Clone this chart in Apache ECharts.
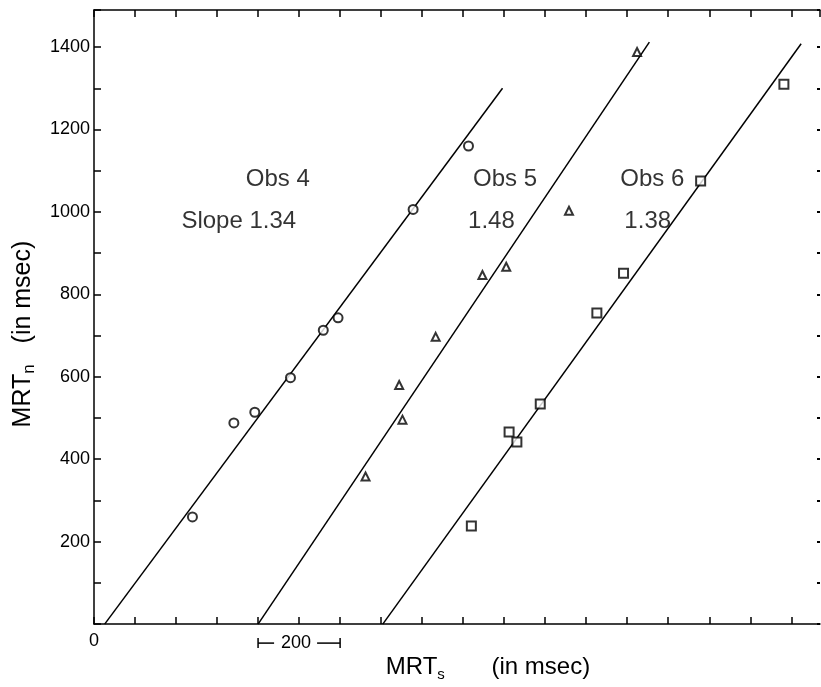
<!DOCTYPE html>
<html>
<head>
<meta charset="utf-8">
<script src="https://cdn.jsdelivr.net/npm/echarts@6/dist/echarts.min.js"></script>
<style>
  html, body { margin: 0; padding: 0; background: #fff; }
  #chart { width: 821px; height: 687px; }
</style>
</head>
<body>
<div id="chart"></div>
<script>
  // observed points, [MRT_s, MRT_n] in msec
  const obs4 = [[240, 260], [341, 488], [392, 514], [479, 598], [559, 713], [595, 743], [778, 1006], [913, 1160]]
  const obs5 = [[662, 358], [744, 580], [752, 496], [833, 697], [947, 847], [1005, 867], [1158, 1003], [1324, 1388]]
  const obs6 = [[920, 238], [1012, 466], [1031, 442], [1088, 534], [1226, 755], [1291, 851], [1479, 1075], [1682, 1310]]
  // fitted lines, end points
  const fit4 = [[26, 0], [996, 1300]]
  const fit5 = [[400, 0], [1354, 1412]]
  const fit6 = [[704, 0], [1724, 1408]]
  // text in the plot
  const noteText = ['Obs 4', 'Slope 1.34', 'Obs 5', '1.48', 'Obs 6', '1.38']
  const noteAt = [[448, 1080], [353, 977], [1002, 1080], [969, 977], [1361, 1080], [1350, 977]]
  const yTickLabels = [200, 400, 600, 800, 1000, 1200, 1400]
  const xTickLabels = [0]

  const font = 'Liberation Sans, Arial, sans-serif'
  const ink = '#000'
  const xMax = 1770
  const yMax = 1490

  const chart = echarts.init(document.getElementById('chart'))

  function pointSeries(data, symbol, size) {
    return {
      type: 'scatter',
      data: data,
      symbol: symbol,
      symbolSize: size,
      itemStyle: { color: ink, borderWidth: 1.5 },
      z: 3
    }
  }
  function lineSeries(data) {
    return {
      type: 'line',
      data: data,
      symbol: 'none',
      lineStyle: { color: ink, width: 1.5 },
      z: 2
    }
  }

  chart.setOption({
    backgroundColor: '#fff',
    animation: false,
    grid: { left: 94, right: 1, top: 10, bottom: 55 },
    xAxis: [
      {
        type: 'value', min: 0, max: xMax, interval: 100,
        axisLine: { onZero: false, lineStyle: { color: ink, width: 1.5 } },
        axisTick: { inside: true, length: 7, lineStyle: { color: ink, width: 1.5 } },
        splitLine: { show: false },
        axisLabel: {
          color: ink, fontFamily: font, fontSize: 18, margin: 8,
          showMaxLabel: false,
          formatter: v => xTickLabels.indexOf(v) >= 0 ? String(v) : ''
        },
        name: '{m|MRT}{s|s}{m|       (in msec)}',
        nameLocation: 'middle',
        nameGap: 26,
        nameTextStyle: {
          color: ink, fontFamily: font, padding: [0, 0, 0, 62],
          rich: {
            m: { fontSize: 24, lineHeight: 30, fontFamily: font, color: ink },
            s: { fontSize: 15, lineHeight: 14, verticalAlign: 'bottom', fontFamily: font, color: ink }
          }
        }
      },
      {
        type: 'value', position: 'top', min: 0, max: xMax, interval: 100,
        axisLine: { onZero: false, lineStyle: { color: ink, width: 1.5 } },
        axisTick: { inside: true, length: 7, lineStyle: { color: ink, width: 1.5 } },
        axisLabel: { show: false },
        splitLine: { show: false }
      }
    ],
    yAxis: [
      {
        type: 'value', min: 0, max: yMax, interval: 100,
        axisLine: { onZero: false, lineStyle: { color: ink, width: 1.5 } },
        axisTick: { inside: true, length: 7, lineStyle: { color: ink, width: 1.5 } },
        splitLine: { show: false },
        axisLabel: {
          color: ink, fontFamily: font, fontSize: 18, margin: 4,
          formatter: v => yTickLabels.indexOf(v) >= 0 ? String(v) : ''
        },
        name: '{m|MRT}{s|n}{m|   (in msec)}',
        nameLocation: 'middle',
        nameGap: 56,
        nameTextStyle: {
          color: ink, fontFamily: font, padding: [0, 34, 0, 0],
          rich: {
            m: { fontSize: 25, lineHeight: 30, fontFamily: font, color: ink },
            s: { fontSize: 17, lineHeight: 14, verticalAlign: 'bottom', fontFamily: font, color: ink }
          }
        }
      },
      {
        type: 'value', position: 'right', min: 0, max: yMax, interval: 100,
        axisLine: { show: false, onZero: false },
        axisTick: { inside: true, length: 3, lineStyle: { color: ink, width: 2 } },
        axisLabel: { show: false },
        splitLine: { show: false }
      }
    ],
    series: [
      lineSeries(fit4),
      lineSeries(fit5),
      lineSeries(fit6),
      pointSeries(obs4, 'emptyCircle', 9),
      pointSeries(obs5, 'emptyTriangle', 8),
      pointSeries(obs6, 'emptyRect', 9),
      {
        type: 'scatter',
        data: noteAt.map((p, i) => ({ value: p, name: noteText[i] })),
        symbol: 'circle',
        symbolSize: 0,
        itemStyle: { color: ink },
        label: {
          show: true, position: [0, 0], align: 'center', verticalAlign: 'middle',
          formatter: '{b}', color: ink, fontFamily: font, fontSize: 24
        },
        z: 4
      }
    ]
  })

  // the "|-200-|" scale bar under the x axis, from 400 to 600 msec
  const a = chart.convertToPixel({ xAxisIndex: 0, yAxisIndex: 0 }, [400, 0])
  const b = chart.convertToPixel({ xAxisIndex: 0, yAxisIndex: 0 }, [600, 0])
  const by = a[1] + 19
  const mid = (a[0] + b[0]) / 2 - 3
  const bar = { stroke: ink, lineWidth: 1.5 }
  chart.setOption({
    graphic: [
      { type: 'line', shape: { x1: a[0], y1: by - 5, x2: a[0], y2: by + 5 }, style: bar },
      { type: 'line', shape: { x1: a[0], y1: by, x2: mid - 22, y2: by }, style: bar },
      { type: 'line', shape: { x1: mid + 21, y1: by, x2: b[0], y2: by }, style: bar },
      { type: 'line', shape: { x1: b[0], y1: by - 5, x2: b[0], y2: by + 5 }, style: bar },
      {
        type: 'text', x: mid, y: by,
        style: { text: '200', fill: ink, font: '18px ' + font, textAlign: 'center', textVerticalAlign: 'middle' }
      }
    ]
  })
</script>
</body>
</html>
